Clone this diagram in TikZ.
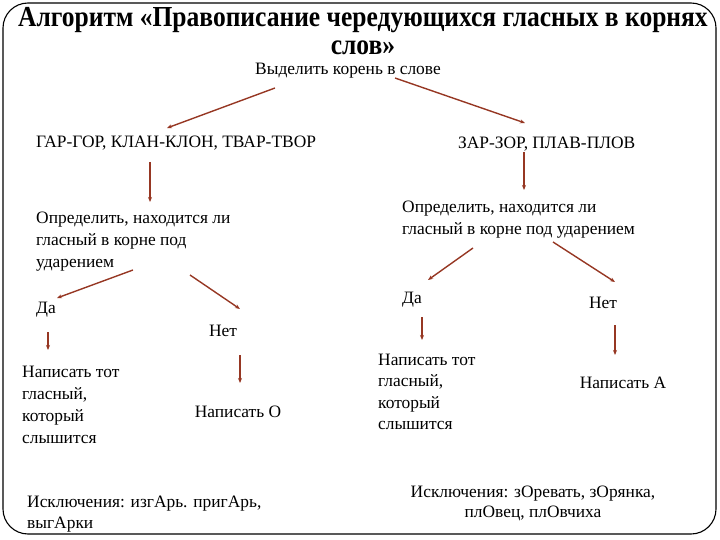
\documentclass[tikz,border=0pt]{standalone}
\usepackage{fontspec}
\setmainfont{Liberation Serif}
\newfontfamily\titlefont{Liberation Serif}[FakeStretch=0.88]
\usetikzlibrary{arrows.meta,calc}
\definecolor{arrowred}{RGB}{150,55,35}

\begin{document}
\begin{tikzpicture}[
  x=1pt,y=-1pt,
  txt/.style={inner sep=0pt, align=left, font=\fontsize{17.4}{22}\selectfont},
  ctxt/.style={txt, align=center},
  titletxt/.style={inner sep=0pt, align=center, font=\titlefont\fontsize{29}{28}\selectfont\bfseries},
  flow/.style={-{Stealth[length=5pt,width=4pt]}, draw=arrowred, line width=1.4pt}
]

% Canvas: 720x540
\path[use as bounding box] (0,0) rectangle (720,540);

% Frame
\draw[rounded corners=25pt, line width=1.1pt] (3,3) rectangle (716,534);

% Title (base = last line)
\node[titletxt, anchor=base] (title) at (363,55)
  {Алгоритм «Правописание чередующихся гласных в корнях\\слов»};

% Root step
\node[txt, anchor=base] (root) at (348,75) {Выделить корень в слове};

% Left branch
\node[txt, anchor=base west] (gar) at (36,148) {ГАР-ГОР, КЛАН-КЛОН, ТВАР-ТВОР};
\node[txt, anchor=base west] (qleft) at (36,267)
  {Определить, находится ли\\гласный в корне под\\ударением};
\node[txt, anchor=base west] (yesL) at (36,313) {Да};
\node[txt, anchor=base] (noL) at (223,336) {Нет};
\node[txt, anchor=base west] (writeL) at (22,443)
  {Написать тот\\гласный,\\который\\слышится};
\node[txt, anchor=base] (writeO) at (238,417) {Написать О};
\node[txt, anchor=base west, font=\fontsize{17.4}{21}\selectfont] (exL) at (27,528)
  {Исключения: изгАрь. пригАрь,\\выгАрки};

% Right branch
\node[txt, anchor=base west] (zar) at (458,149) {ЗАР-ЗОР, ПЛАВ-ПЛОВ};
\node[txt, anchor=base west, font=\fontsize{17.4}{21}\selectfont] (qright) at (402,234)
  {Определить, находится ли\\гласный в корне под ударением};
\node[txt, anchor=base] (yesR) at (412,303) {Да};
\node[txt, anchor=base] (noR) at (603,308) {Нет};
\node[txt, anchor=base west, font=\fontsize{17.4}{21.5}\selectfont] (writeR) at (378,429.5)
  {Написать тот\\гласный,\\который\\слышится};
\node[txt, anchor=base] (writeA) at (623,388) {Написать А};
\node[ctxt, anchor=base, font=\fontsize{17.4}{20}\selectfont] (exR) at (533,517)
  {Исключения: зОревать, зОрянка,\\плОвец, плОвчиха};

% Arrows from root
\draw[flow] ($(root.base)+(-73,13)$) -- ($(gar.base west)+(131,-20)$);
\draw[flow] ($(root.base)+(47,3)$) -- ($(zar.base west)+(67,-26)$);

% Left branch arrows
\draw[flow] ($(gar.base west)+(114,14)$) -- ($(qleft.base west)+(114,-65)$);
\draw[flow] ($(qleft.base west)+(97,3)$) -- ($(yesL.base west)+(21,-15)$);
\draw[flow] ($(qleft.base west)+(154,8)$) -- ($(noL.base)+(17,-27)$);
\draw[flow] ($(yesL.base west)+(12,19)$) -- ($(writeL.base west)+(26,-93)$);
\draw[flow] ($(noL.base)+(17,19)$) -- ($(writeO.base)+(2,-34)$);

% Right branch arrows
\draw[flow] ($(zar.base west)+(66,3)$) -- ($(qright.base west)+(122,-44)$);
\draw[flow] ($(qright.base west)+(71,14)$) -- ($(yesR.base)+(16,-23)$);
\draw[flow] ($(qright.base west)+(151,8)$) -- ($(noR.base)+(12,-26)$);
\draw[flow] ($(yesR.base)+(10,14)$) -- ($(writeR.base west)+(44,-89.5)$);
\draw[flow] ($(noR.base)+(12,17)$) -- ($(writeA.base)+(-8,-33)$);

\end{tikzpicture}
\end{document}
